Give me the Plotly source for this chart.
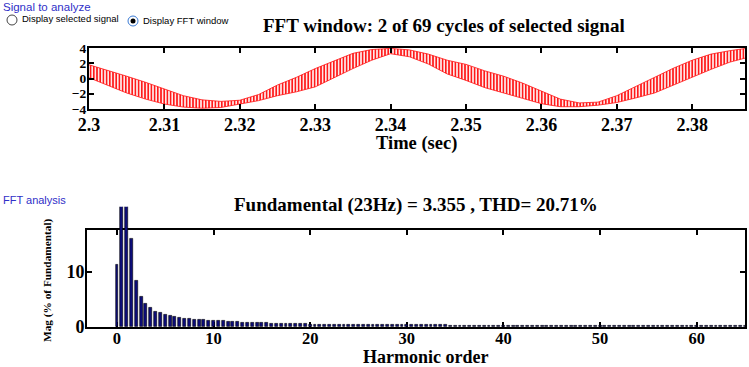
import numpy as np
import plotly.graph_objects as go

W, H = 749, 367

# ---------------- data ----------------
# FFT window signal: upper / lower envelope of the (ripple) band
t_pts = [2.3000, 2.3025, 2.3050, 2.3075, 2.3100, 2.3125, 2.3150, 2.3175, 2.3200,
         2.3225, 2.3250, 2.3275, 2.3300, 2.3325, 2.3350, 2.3375, 2.3400, 2.3425,
         2.3450, 2.3475, 2.3500, 2.3525, 2.3550, 2.3575, 2.3600, 2.3625, 2.3650,
         2.3675, 2.3700, 2.3725, 2.3750, 2.3775, 2.3800, 2.3825, 2.3850, 2.3875]
sig_upper = [1.8, 1.1, 0.3, -0.5, -1.35, -2.25, -2.8, -3.0, -2.85,
             -2.1, -0.85, 0.15, 1.3, 2.35, 3.3, 3.8, 3.95, 3.75,
             3.2, 2.4, 1.85, 1.0, 0.3, -0.6, -1.7, -2.7, -3.2,
             -3.1, -2.25, -1.05, 0.1, 1.35, 2.4, 3.2, 3.65, 4.0]
sig_lower = [0.1, -0.9, -1.9, -2.7, -3.35, -3.75, -3.9, -3.8, -3.35,
             -2.9, -2.25, -1.75, -1.1, 0.05, 1.3, 2.4, 3.25, 2.85,
             1.9, 0.6, -0.25, -1.2, -1.9, -2.6, -3.3, -3.7, -3.7,
             -3.5, -3.15, -2.55, -1.9, -0.85, 0.2, 1.2, 2.15, 2.8]

time_ticks = [2.3, 2.31, 2.32, 2.33, 2.34, 2.35, 2.36, 2.37, 2.38]
time_labels = ["2.3", "2.31", "2.32", "2.33", "2.34", "2.35", "2.36", "2.37", "2.38"]
sig_ticks = [-4, -2, 0, 2, 4]

# FFT magnitudes (% of fundamental), harmonic orders 0, 0.5, 1, ... 65
fft_mag = [
    11.2, 30.0, 100.0, 16.0, 8.4, 5.5, 4.2, 3.4, 2.8, 2.5,          # 0 .. 4.5
    2.2, 2.0, 1.8, 1.65, 1.5, 1.45, 1.4, 1.3, 1.25, 1.2,            # 5 .. 9.5
    1.15, 1.1, 1.05, 1.0, 0.95, 0.9, 0.85, 0.8, 0.8, 0.75,          # 10 .. 14.5
    0.7, 0.7, 0.65, 0.65, 0.6, 0.6, 0.6, 0.55, 0.55, 0.55,          # 15 .. 19.5
    0.5, 0.5, 0.5, 0.5, 0.5, 0.45, 0.45, 0.45, 0.45, 0.45,          # 20 .. 24.5
    0.45, 0.45, 0.45, 0.45, 0.45, 0.4, 0.4, 0.4, 0.4, 0.4,          # 25 .. 29.5
    0.4, 0.4, 0.4, 0.4, 0.4, 0.35, 0.35, 0.35, 0.35, 0.2,           # 30 .. 34.5
    0.15, 0.15, 0.15, 0.15, 0.15, 0.15, 0.15, 0.15, 0.15, 0.15,     # 35 .. 39.5
    0.15, 0.15, 0.15, 0.15, 0.15, 0.15, 0.15, 0.15, 0.15, 0.15,     # 40 .. 44.5
    0.15, 0.15, 0.15, 0.15, 0.15, 0.15, 0.15, 0.15, 0.15, 0.15,     # 45 .. 49.5
    0.15, 0.15, 0.15, 0.15, 0.15, 0.15, 0.15, 0.15, 0.15, 0.15,     # 50 .. 54.5
    0.15, 0.15, 0.15, 0.15, 0.15, 0.15, 0.15, 0.15, 0.15, 0.15,     # 55 .. 59.5
    0.15, 0.15, 0.15, 0.15, 0.15, 0.15, 0.15, 0.15, 0.15, 0.15,     # 60 .. 64.5
    0.15,                                                           # 65
]
harm_order = np.arange(len(fft_mag)) * 0.5
harm_ticks = [0, 10, 20, 30, 40, 50, 60]
mag_ticks = [0, 10]

title_top = "FFT window: 2 of 69 cycles of selected signal"
title_fft = "Fundamental (23Hz) = 3.355 , THD= 20.71%"

# ---------------- helpers ----------------
def px(x):
    return x / W

def py(y):
    return 1 - y / H

SERIF = "Liberation Serif"
SANS = "Liberation Sans"
tickfont = dict(family=SERIF, size=18, color="black", weight="bold")
btickfont = dict(family=SERIF, size=16.5, color="black", weight="bold")
ytickfont = dict(family=SERIF, size=13.5, color="black", weight="bold")

fig = go.Figure()

# top: signal band
fig.add_trace(go.Scatter(
    x=t_pts + t_pts[::-1], y=sig_upper + sig_lower[::-1],
    fill="toself", mode="lines",
    line=dict(color="#ff1010", width=0.8),
    fillcolor="rgba(255,255,255,0)",
    fillpattern=dict(shape="|", fgcolor="#ff1a1a", bgcolor="white",
                     size=3.2, solidity=0.55, fillmode="replace"),
    xaxis="x", yaxis="y", showlegend=False, hoverinfo="skip"))

# frame subplot for the FFT (empty)
fig.add_trace(go.Scatter(x=[], y=[], xaxis="x2", yaxis="y2", showlegend=False))

# bars (in an overlapping, taller subplot so clipped bars rise above the frame)
fig.add_trace(go.Bar(
    x=harm_order, y=fft_mag, width=0.3,
    marker=dict(color="#0c0c7a", line=dict(color="black", width=0.6)),
    xaxis="x3", yaxis="y3", showlegend=False))

ax_common = dict(showline=True, linecolor="black", linewidth=2, mirror="ticks",
                 ticks="inside", ticklen=5, tickwidth=1.5, tickcolor="black",
                 showgrid=False, zeroline=False, automargin=False)

x_frame_top = [px(89), px(745)]
x_frame_bot = [px(87), px(745)]
y_frame_bot = [py(327), py(230)]
y_bar_dom = [py(327), py(206.7)]
mag_top = 17.5
bar_top = mag_top * (327 - 206.7) / (327 - 230)

fig.update_layout(
    width=W, height=H,
    margin=dict(l=0, r=0, t=0, b=0, autoexpand=False),
    paper_bgcolor="white", plot_bgcolor="rgba(0,0,0,0)",
    xaxis=dict(domain=x_frame_top, anchor="y", range=[2.3, 2.387],
               tickvals=time_ticks, ticktext=time_labels, tickfont=tickfont,
               ticklabelstandoff=-2, **ax_common),
    yaxis=dict(domain=[py(109), py(48)], anchor="x", range=[-4, 4],
               tickvals=sig_ticks, tickfont=ytickfont, ticklabelstandoff=-2, **ax_common),
    xaxis2=dict(domain=x_frame_bot, anchor="y2", range=[-3.1, 65],
                tickvals=harm_ticks, tickfont=btickfont, ticklabelstandoff=-5, **ax_common),
    yaxis2=dict(domain=y_frame_bot, anchor="x2", range=[0, mag_top],
                tickvals=mag_ticks, tickfont=tickfont, ticklabelstandoff=-3, **ax_common),
    xaxis3=dict(domain=x_frame_bot, anchor="y3", range=[-3.1, 65], visible=False),
    yaxis3=dict(domain=y_bar_dom, anchor="x3", range=[0, bar_top], visible=False),
    bargap=0,
)

ann = []
def text(x, y, s, size, family, color="black", bold=False, xanchor="center", angle=0):
    ann.append(dict(x=px(x), y=py(y), xref="paper", yref="paper", text=s,
                    showarrow=False, xanchor=xanchor, yanchor="middle", textangle=angle,
                    font=dict(family=family, size=size, color=color,
                              weight="bold" if bold else "normal")))

text(1, 7, "Signal to analyze", 11.5, SANS, color="#3030c8", xanchor="left")
text(20, 19, "Display selected signal", 9.5, SANS, xanchor="left")
text(141, 20, "Display FFT window", 9.5, SANS, xanchor="left")
text(1, 200, "FFT analysis", 11, SANS, color="#3030c8", xanchor="left")
text(444, 25, title_top, 19, SERIF, bold=True)
text(416, 143, "Time (sec)", 18.5, SERIF, bold=True)
text(416, 205, title_fft, 19, SERIF, bold=True)
text(425, 356.5, "Harmonic order", 18, SERIF, bold=True)
text(47, 280, "Mag (% of Fundamental)", 11.3, SERIF, bold=True, angle=-90)
fig.update_layout(annotations=ann)

# radio buttons (UI decoration)
def circle(cx, cy, r, line, fill, lw=1):
    return dict(type="circle", xref="paper", yref="paper",
                x0=px(cx - r), x1=px(cx + r), y0=py(cy + r), y1=py(cy - r),
                line=dict(color=line, width=lw), fillcolor=fill)

fig.update_layout(shapes=[
    circle(12, 20, 5, "#444444", "white"),
    circle(133, 21, 5, "#3a7bd5", "white"),
    circle(133, 21, 2.5, "black", "black", 0),
])

fig.write_html(
    "out.html",
    config={"displayModeBar": False},
    post_script="document.body.style.margin='0';document.body.style.overflow='hidden';",
)
